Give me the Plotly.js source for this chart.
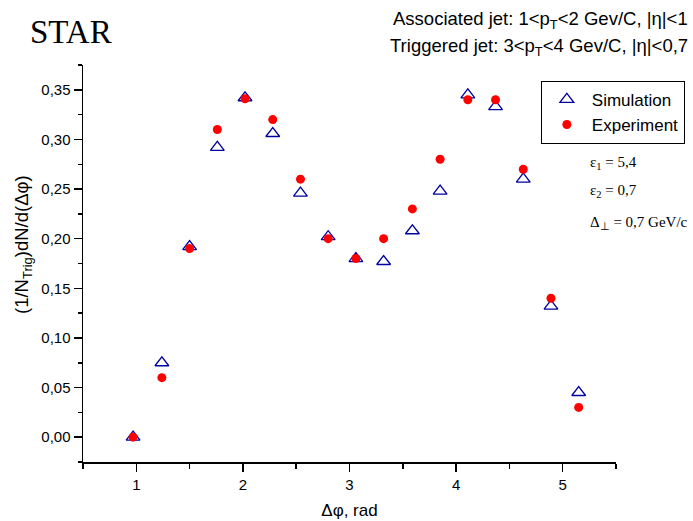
<!DOCTYPE html>
<html>
<head>
<meta charset="utf-8">
<script src="https://cdn.plot.ly/plotly-3.0.1.min.js"></script>
<style>
html,body{margin:0;padding:0;background:#fff;}
#chart{width:693px;height:521px;}
</style>
</head>
<body>
<div id="chart"></div>
<script>
// Δφ positions (rad)
var dphi = [0.97, 1.24, 1.50, 1.76, 2.02, 2.28, 2.54, 2.80, 3.06, 3.32, 3.59, 3.85, 4.11, 4.37, 4.63, 4.89, 5.15];
// Simulation (open triangles)
var simulation = [0.000, 0.075, 0.192, 0.292, 0.342, 0.306, 0.246, 0.202, 0.180, 0.177, 0.208, 0.248, 0.345, 0.333, 0.260, 0.132, 0.045];
// Experiment (red dots)
var experiment = [0.000, 0.060, 0.190, 0.310, 0.341, 0.320, 0.260, 0.200, 0.180, 0.200, 0.230, 0.280, 0.340, 0.340, 0.270, 0.140, 0.030];

var xTickVals = [1, 2, 3, 4, 5];
var yTickVals = [0, 0.05, 0.10, 0.15, 0.20, 0.25, 0.30, 0.35];

var traces = [
  {
    x: dphi, y: simulation, type: 'scatter', mode: 'markers', name: 'Simulation',
    marker: {symbol: 'triangle-up-open', size: 12, color: '#0000a0', line: {width: 1.3, color: '#0000a0'}},
    cliponaxis: false
  },
  {
    x: dphi, y: experiment, type: 'scatter', mode: 'markers', name: 'Experiment',
    marker: {symbol: 'circle', size: 9, color: '#ff0000'},
    cliponaxis: false
  }
];

var serif = 'Liberation Serif, Times New Roman, serif';

var layout = {
  width: 693, height: 521,
  margin: {l: 83, r: 77, t: 65, b: 59, autoexpand: false},
  paper_bgcolor: '#ffffff', plot_bgcolor: '#ffffff',
  separators: ', ',
  font: {family: 'Liberation Sans, Arial, sans-serif', color: '#000', size: 15},
  showlegend: true,
  legend: {
    x: 0.859, y: 0.960, xanchor: 'left', yanchor: 'top',
    bordercolor: '#000', borderwidth: 1, bgcolor: '#fff',
    font: {family: 'Liberation Sans, Arial, sans-serif', size: 17, color: '#000'},
    tracegroupgap: 0, itemwidth: 40
  },
  xaxis: {
    range: [0.5, 5.5], showgrid: false, zeroline: false,
    showline: true, linecolor: '#000', linewidth: 1.5,
    tickmode: 'array', tickvals: xTickVals, ticktext: xTickVals.map(String),
    ticks: 'outside', ticklen: 8, tickwidth: 1.5, tickcolor: '#000',
    minor: {dtick: 0.5, tick0: 0.5, ticks: 'outside', ticklen: 5, tickwidth: 1.5, tickcolor: '#000', showgrid: false},
    tickfont: {size: 15},
    title: {text: 'Δφ, rad', font: {size: 17}, standoff: 12}
  },
  yaxis: {
    range: [-0.025, 0.375], showgrid: false, zeroline: false,
    showline: true, linecolor: '#000', linewidth: 1.5,
    tickmode: 'array', tickvals: yTickVals, ticktext: yTickVals.map(function(v){return v.toFixed(2).replace('.', ',');}),
    ticks: 'outside', ticklen: 8, tickwidth: 1.5, tickcolor: '#000',
    minor: {dtick: 0.025, tick0: 0, ticks: 'outside', ticklen: 4, tickwidth: 1.5, tickcolor: '#000', showgrid: false},
    tickfont: {size: 15}
  },
  annotations: [
    {xref: 'paper', yref: 'paper', xanchor: 'left', yanchor: 'middle',
     text: 'STAR', showarrow: false,
     font: {family: serif, size: 33, color: '#000'}},
    {xref: 'paper', yref: 'paper', xanchor: 'right', yanchor: 'middle',
     text: 'Associated jet: 1<p<sub>T</sub><2 Gev/C, |η|<1', showarrow: false,
     font: {size: 18.5, color: '#000'}},
    {xref: 'paper', yref: 'paper', xanchor: 'right', yanchor: 'middle',
     text: 'Triggered jet: 3<p<sub>T</sub><4 Gev/C, |η|<0,7', showarrow: false,
     font: {size: 18.5, color: '#000'}},
    {xref: 'paper', yref: 'paper', xanchor: 'left', yanchor: 'middle',
     text: 'ε<sub>1</sub> = 5,4', showarrow: false,
     font: {family: serif, size: 15, color: '#000'}},
    {xref: 'paper', yref: 'paper', xanchor: 'left', yanchor: 'middle',
     text: 'ε<sub>2</sub> = 0,7', showarrow: false,
     font: {family: serif, size: 15, color: '#000'}},
    {xref: 'paper', yref: 'paper', xanchor: 'left', yanchor: 'middle',
     text: 'Δ<sub>⊥</sub> = 0,7 GeV/c', showarrow: false,
     font: {family: serif, size: 15, color: '#000'}},
    {xref: 'paper', yref: 'paper', xanchor: 'center', yanchor: 'middle', textangle: -90,
     text: '(1/N<sub>Trig</sub>)dN/d(Δφ)', showarrow: false,
     font: {size: 18.5, color: '#000'}}
  ]
};

// position annotations by pixel targets converted to paper coords
var plotTop = 65, plotH = 397, plotL = 83, plotW = 533;
function py(pix){ return (plotTop + plotH - pix) / plotH; }
function px(pix){ return (pix - plotL) / plotW; }
var pos = [[28, 32], [690, 20], [690, 47], [588, 163], [588, 191], [588, 223], [23, 245]];
pos.forEach(function(p, i){ layout.annotations[i].x = px(p[0]); layout.annotations[i].y = py(p[1]); });

Plotly.newPlot('chart', traces, layout, {staticPlot: true, displayModeBar: false});
</script>
</body>
</html>
